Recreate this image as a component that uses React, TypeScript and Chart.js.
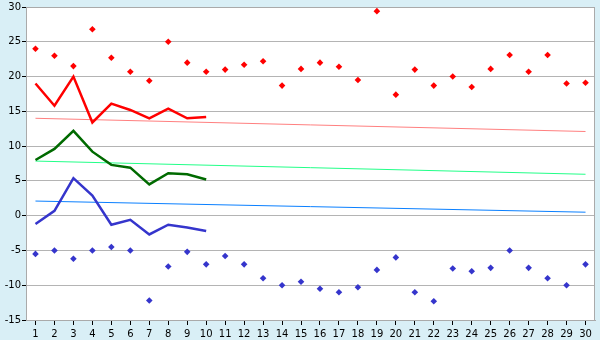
import React, { useEffect, useRef } from "react";
import { Chart, registerables } from "chart.js";

Chart.register(...registerables);

const categories = Array.from({ length: 30 }, (_, i) => String(i + 1));

const highPoints = [24, 23, 21.5, 26.8, 22.7, 20.7, 19.4, 25, 22, 20.7, 21, 21.7, 22.2, 18.7, 21.1, 22, 21.4, 19.5, 29.4, 17.4, 21, 18.7, 20, 18.5, 21.1, 23.1, 20.7, 23.1, 19, 19.1];
const lowPoints = [-5.5, -5, -6.2, -5, -4.5, -5, -12.2, -7.3, -5.2, -7, -5.8, -7, -9, -10, -9.5, -10.5, -11, -10.3, -7.8, -6, -11, -12.3, -7.6, -8, -7.5, -5, -7.5, -9, -10, -7];
const redLine = [19, 15.8, 20, 13.4, 16.1, 15.2, 14, 15.4, 14.0, 14.2];
const greenLine = [8, 9.6, 12.2, 9.2, 7.3, 6.9, 4.5, 6.1, 5.95, 5.2];
const blueLine = [-1.2, 0.7, 5.4, 2.9, -1.3, -0.6, -2.7, -1.3, -1.7, -2.2];
// trend lines: first and last category values (straight lines between)
const redTrendEnds = [14.0, 12.1];
const greenTrendEnds = [7.85, 5.95];
const blueTrendEnds = [2.1, 0.5];

const yTicks = [-15, -10, -5, 0, 5, 10, 15, 20, 25, 30];

function endsToSeries(ends: number[]) {
  return categories.map((_, i) => (i === 0 ? ends[0] : i === categories.length - 1 ? ends[1] : null));
}

const frame = {
  id: "frame",
  afterDraw(chart: any) {
    const { ctx, chartArea: a } = chart;
    ctx.save();
    ctx.strokeStyle = "#aaaaaa";
    ctx.lineWidth = 1;
    ctx.strokeRect(a.left + 0.5, a.top + 0.5, a.right - a.left - 1, a.bottom - a.top);
    ctx.restore();
  },
};

const bg = {
  id: "bg",
  beforeDraw(chart: any) {
    const { ctx, chartArea: a, width, height } = chart;
    ctx.save();
    ctx.fillStyle = "#d9eff6";
    ctx.fillRect(0, 0, width, height);
    ctx.fillStyle = "#ffffff";
    ctx.fillRect(a.left, a.top, a.right - a.left, a.bottom - a.top);
    ctx.restore();
  },
};

export default function App() {
  const ref = useRef<HTMLCanvasElement>(null);
  useEffect(() => {
    const pad = (arr: number[]) => categories.map((_, i) => (i < arr.length ? arr[i] : null));
    const chart = new Chart(ref.current!, {
      type: "line",
      data: {
        labels: categories,
        datasets: [
          { data: highPoints, showLine: false, pointStyle: "rectRot", pointRadius: 3.3, backgroundColor: "#ff0000", borderColor: "#ff0000", borderWidth: 0 },
          { data: lowPoints, showLine: false, pointStyle: "rectRot", pointRadius: 3.3, backgroundColor: "#3535cc", borderColor: "#3535cc", borderWidth: 0 },
          { data: pad(redLine), borderColor: "#ff0000", borderWidth: 2.5, pointRadius: 0, spanGaps: false },
          { data: pad(greenLine), borderColor: "#006a00", borderWidth: 2.5, pointRadius: 0 },
          { data: pad(blueLine), borderColor: "#3535cc", borderWidth: 2.5, pointRadius: 0 },
          { data: endsToSeries(redTrendEnds), borderColor: "#ff8080", borderWidth: 1, pointRadius: 0, spanGaps: true },
          { data: endsToSeries(greenTrendEnds), borderColor: "#22ff88", borderWidth: 1, pointRadius: 0, spanGaps: true },
          { data: endsToSeries(blueTrendEnds), borderColor: "#0a80ff", borderWidth: 1, pointRadius: 0, spanGaps: true },
        ],
      },
      options: {
        animation: false,
        responsive: false,
        layout: { padding: { left: 0, top: 5, right: 5, bottom: 0 } },
        plugins: { legend: { display: false }, tooltip: { enabled: false } },
        scales: {
          x: {
            offset: true,
            grid: { display: true, drawOnChartArea: false, drawTicks: true, tickLength: 5, tickColor: "#000000", offset: false },
            border: { display: true, color: "#aaaaaa" },
            ticks: { color: "#000000", font: { family: "DejaVu Sans", size: 10 }, padding: 3, maxRotation: 0, autoSkip: false },
            afterFit: (s: any) => { s.height = 20; },
          },
          y: {
            min: -15,
            max: 30,
            afterBuildTicks: (s: any) => { s.ticks = yTicks.map((v) => ({ value: v })); },
            grid: { color: "#b4b4b4", tickColor: "#000000", tickLength: 4 },
            border: { display: true, color: "#aaaaaa" },
            ticks: { color: "#000000", font: { family: "DejaVu Sans", size: 10 }, padding: 1 },
            afterFit: (s: any) => { s.width = 26; },
          },
        },
      },
      plugins: [bg, frame],
    });
    return () => chart.destroy();
  }, []);
  return (
    <div style={{ position: "fixed", left: 0, top: 0, width: 600, height: 340 }}>
      <canvas ref={ref} width={600} height={340} />
    </div>
  );
}
